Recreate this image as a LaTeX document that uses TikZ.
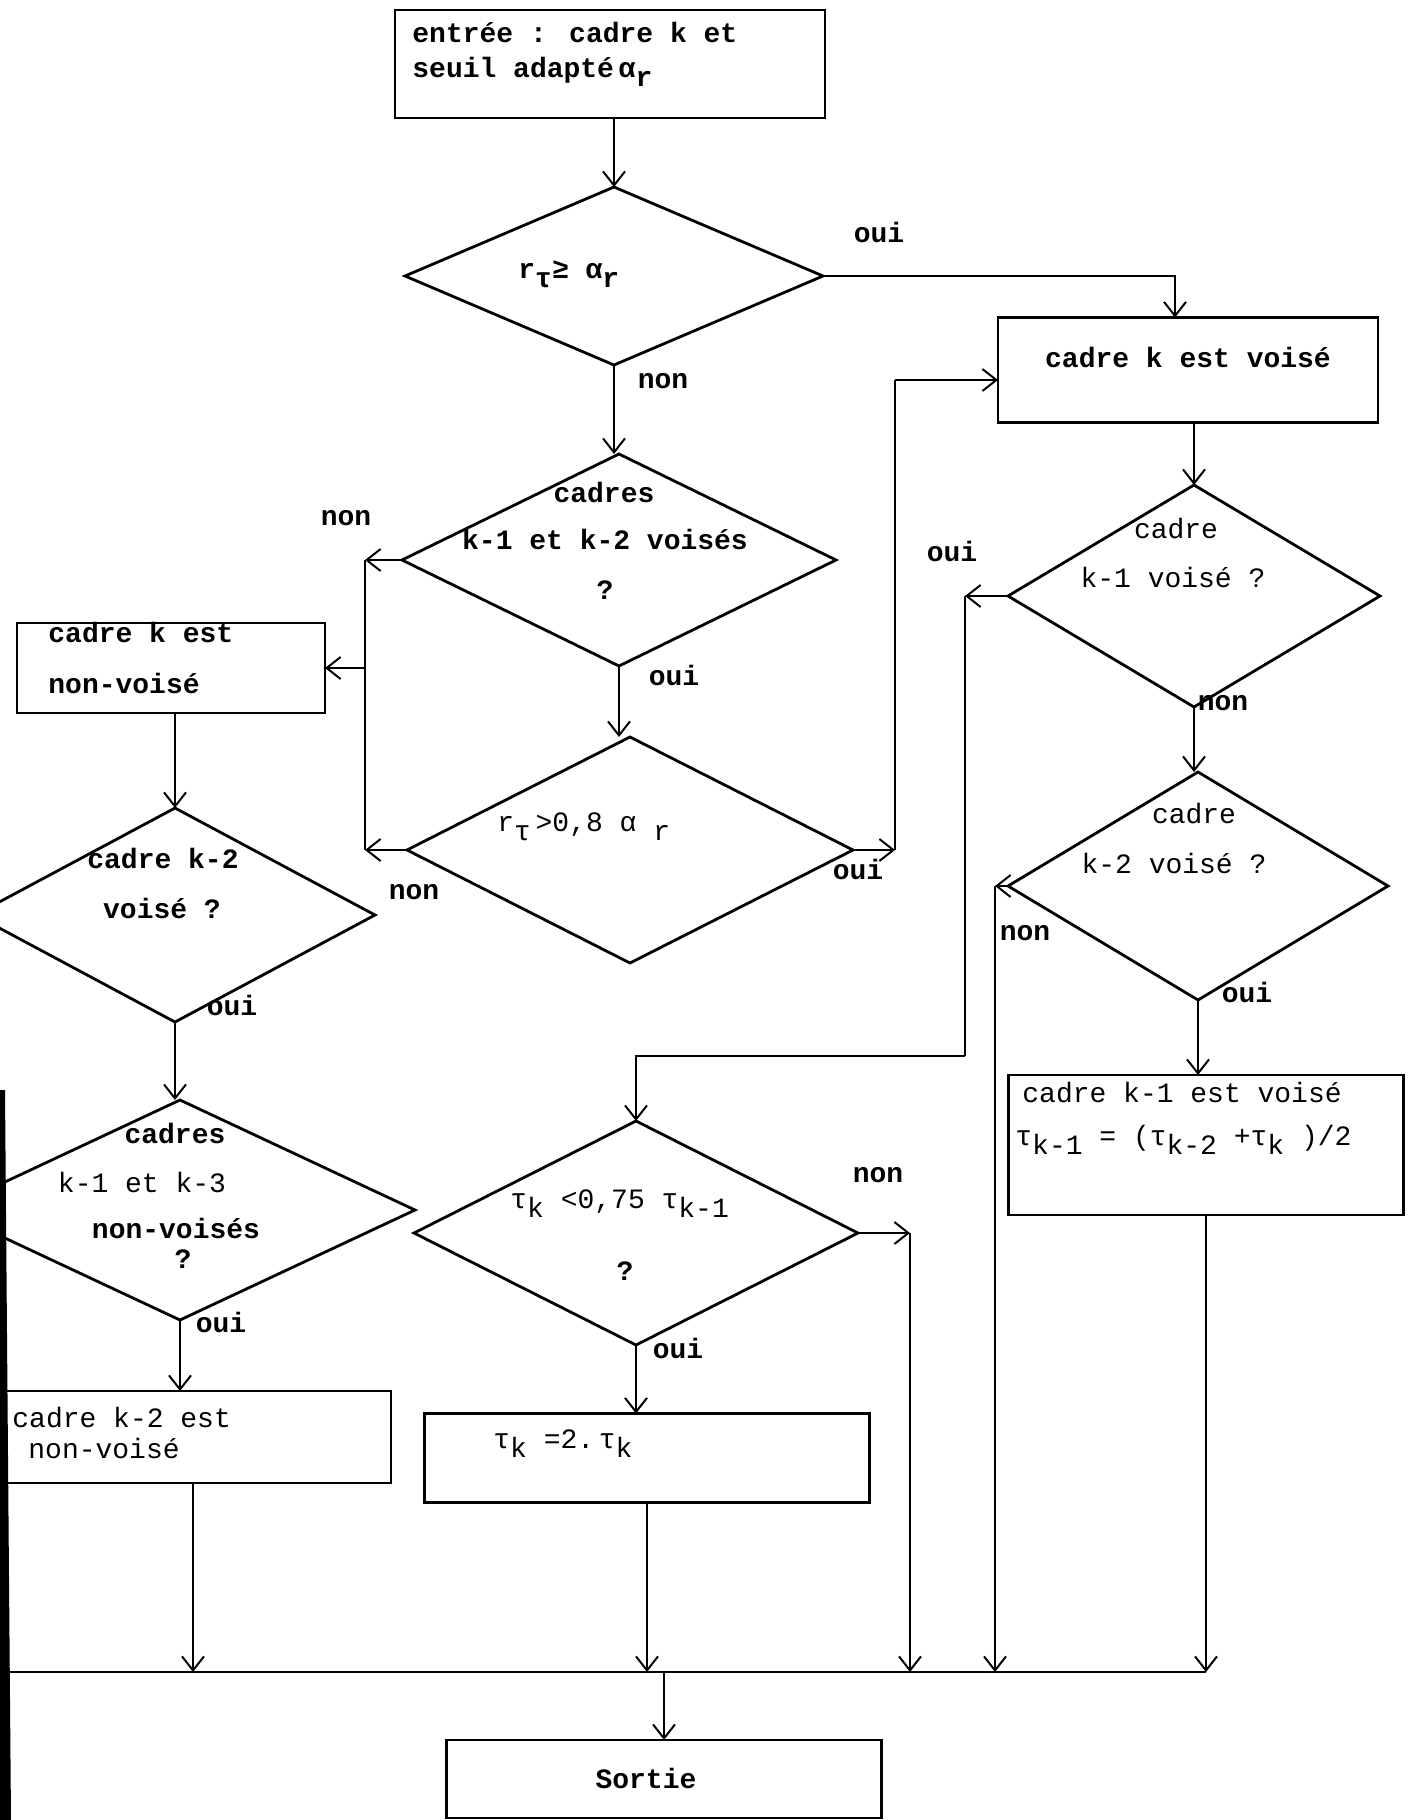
\documentclass[tikz,border=0pt]{standalone}
\usepackage{fontspec}
\setmainfont{Liberation Mono}
\usetikzlibrary{shapes.geometric,arrows.meta}
\newcommand\lo[1]{\raisebox{-0.6ex}{#1}}
\begin{document}
\begin{tikzpicture}[x=0.5pt,y=-0.5pt,
  ln/.style={line width=1pt},
  arr/.style={line width=1pt,-{Straight Barb[length=7pt,width=11pt,line width=1pt]}},
  dia/.style={draw,shape=diamond,line width=1.4pt,inner sep=0pt,outer sep=0pt},
  boxn/.style={draw,rectangle,line width=1.2pt,inner sep=0pt,outer sep=0pt},
  txt/.style={inner sep=0pt,font=\fontsize{14pt}{17pt}\selectfont},
  btxt/.style={inner sep=0pt,font=\fontsize{14pt}{17pt}\selectfont\bfseries},
  lbl/.style={btxt,anchor=mid}]
\useasboundingbox (0,0) rectangle (1409,1820);
\clip (0,0) rectangle (1409,1820);
\fill[white] (0,0) rectangle (1409,1820);
% scan edge
\fill[black] (0,1090) -- (5,1090) -- (11,1820) -- (0,1820) -- cycle;

% ---------- boxes ----------
\node[boxn,minimum width=215pt,minimum height=54pt] (In) at (610,64) {};
\node[boxn,minimum width=190pt,minimum height=52.5pt] (V) at (1188,370) {};
\node[boxn,minimum width=154pt,minimum height=45pt] (NV) at (171,668) {};
\node[boxn,minimum width=198pt,minimum height=46pt] (NV2) at (193,1437) {};
\node[boxn,minimum width=222.5pt,minimum height=44.5pt] (T) at (647,1458) {};
\node[boxn,minimum width=197.5pt,minimum height=70pt] (V2) at (1206,1145) {};
\node[boxn,minimum width=217.5pt,minimum height=39pt] (S) at (664,1779) {};

% ---------- diamonds ----------
\node[dia,minimum width=209pt,minimum height=89pt] (D1) at (614,276) {};
\node[dia,minimum width=217pt,minimum height=106pt] (D2) at (619,560) {};
\node[dia,minimum width=223pt,minimum height=113pt] (D3) at (630,850) {};
\node[dia,minimum width=200pt,minimum height=107pt] (D4) at (175,915) {};
\node[dia,minimum width=235pt,minimum height=110pt] (D5) at (180,1210) {};
\node[dia,minimum width=222pt,minimum height=112pt] (D6) at (636,1233) {};
\node[dia,minimum width=186pt,minimum height=111pt] (D7) at (1194,596) {};
\node[dia,minimum width=190pt,minimum height=114pt] (D8) at (1198,886) {};

% ---------- texts ----------
\node[btxt,anchor=mid west] (tIn1) at (412,37) {entrée : cadre k et};
\node[btxt,anchor=mid west] (tIn2) at (412,72) {seuil adapté\,α\lo{r}};
\node[btxt,anchor=mid west] (tD1) at (518,273) {r\lo{τ}≥ α\lo{r}};
\node[btxt,anchor=mid] (tD2a) at (604,497) {cadres};
\node[btxt,anchor=mid] (tD2b) at (605,544) {k-1 et k-2 voisés};
\node[btxt,anchor=mid] (tD2c) at (605,594) {?};
\node[txt,anchor=mid west] (tD3) at (497,826) {r\lo{τ}\,>0,8 α \lo{r}};
\node[btxt,anchor=mid west] (tNV1) at (48,637) {cadre k est};
\node[btxt,anchor=mid west] (tNV2) at (48,688) {non-voisé};
\node[btxt,anchor=mid] (tD4a) at (163,863) {cadre k-2};
\node[btxt,anchor=mid] (tD4b) at (162,913) {voisé ?};
\node[btxt,anchor=mid] (tD5a) at (175,1138) {cadres};
\node[txt,anchor=mid] (tD5b) at (142,1187) {k-1 et k-3};
\node[btxt,anchor=mid] (tD5c) at (176,1233) {non-voisés};
\node[btxt,anchor=mid] (tD5d) at (183,1263) {?};
\node[txt,anchor=mid west] (tNV2a) at (12,1422) {cadre k-2 est};
\node[txt,anchor=mid west] (tNV2b) at (28,1453) {non-voisé};
\node[txt,anchor=mid west] (tD6a) at (510,1203) {τ\lo{k} <0,75 τ\lo{k-1}};
\node[btxt,anchor=mid] (tD6b) at (625,1275) {?};
\node[txt,anchor=mid west] (tT) at (493,1443) {τ\lo{k} =2.\,τ\lo{k}};
\node[btxt,anchor=mid] (tV) at (1188,362) {cadre k est voisé};
\node[txt,anchor=mid] (tD7a) at (1176,533) {cadre};
\node[txt,anchor=mid] (tD7b) at (1173,582) {k-1 voisé ?};
\node[txt,anchor=mid] (tD8a) at (1194,818) {cadre};
\node[txt,anchor=mid] (tD8b) at (1174,868) {k-2 voisé ?};
\node[txt,anchor=mid west] (tV2a) at (1022,1097) {cadre k-1 est voisé};
\node[txt,anchor=mid west] (tV2b) at (1015,1140) {τ\lo{k-1} = (τ\lo{k-2} +τ\lo{k} )/2};
\node[btxt,anchor=mid] (tS) at (646,1783) {Sortie};

% ---------- branch labels ----------
\node[lbl] (o1) at (879,237) {oui};
\node[lbl] (n1) at (663,383) {non};
\node[lbl] (n2) at (346,520) {non};
\node[lbl] (o2) at (674,680) {oui};
\node[lbl] (n3) at (414,894) {non};
\node[lbl] (o3) at (858,874) {oui};
\node[lbl] (o4) at (232,1010) {oui};
\node[lbl] (o5) at (221,1327) {oui};
\node[lbl] (n6) at (878,1177) {non};
\node[lbl] (o6) at (678,1353) {oui};
\node[lbl] (o7) at (952,556) {oui};
\node[lbl] (n7) at (1223,705) {non};
\node[lbl] (n8) at (1025,935) {non};
\node[lbl] (o8) at (1247,997) {oui};

% ---------- helper coordinates ----------
\coordinate (c1) at (1175,276);
\coordinate (bl) at (365,600);
\coordinate (br) at (895,380);
\coordinate (c7) at (965,1056);
\coordinate (c8) at (995,900);
\coordinate (c6) at (910,1233);
\coordinate (bw) at (0,1672);
\path (V2.south |- bw) coordinate (be);

% ---------- connectors ----------
\draw[arr] (In.south -| D1.north) -- (D1.north);
\draw[arr] (D1.east) -| (V.north -| c1);
\draw[arr] (D1.south) -- (D1.south |- D2.north);
\draw[arr] (D2.south) -- (D2.south |- D3.north);
% left bus
\draw[arr] (D2.west) -- (D2.west -| bl);
\draw[ln] (D2.west -| bl) -- (D3.west -| bl);
\draw[arr] (D3.west) -- (D3.west -| bl);
\draw[arr] (NV.east -| bl) -- (NV.east);
% right bus to V
\draw[arr] (D3.east) -- (D3.east -| br);
\draw[ln] (D3.east -| br) -- (br);
\draw[arr] (br) -- (br -| V.west);
% left column
\draw[arr] (NV.south -| D4.north) -- (D4.north);
\draw[arr] (D4.south) -- (D4.south |- D5.north);
\draw[arr] (D5.south) -- (D5.south |- NV2.north);
% right column
\draw[arr] (V.south -| D7.north) -- (D7.north);
\draw[arr] (D7.south) -- (D7.south |- D8.north);
\draw[arr] (D8.south) -- (D8.south |- V2.north);
\draw[arr] (D7.west) -- (D7.west -| c7);
\draw[ln] (D7.west -| c7) -- (c7);
\draw[arr] (c7) -| (D6.north);
\draw[arr] (D8.west) -- (D8.west -| c8);
% middle
\draw[arr] (D6.south) -- (D6.south |- T.north);
\draw[arr] (D6.east) -- (c6);
% collector bus
\draw[ln] (bw) -- (be);
\draw[arr] (NV2.south) -- (NV2.south |- bw);
\draw[arr] (T.south) -- (T.south |- bw);
\draw[arr] (c6) -- (c6 |- bw);
\draw[arr] (D8.west -| c8) -- (c8 |- bw);
\draw[arr] (V2.south) -- (be);
\draw[arr] (S.north |- bw) -- (S.north);
\end{tikzpicture}
\end{document}
